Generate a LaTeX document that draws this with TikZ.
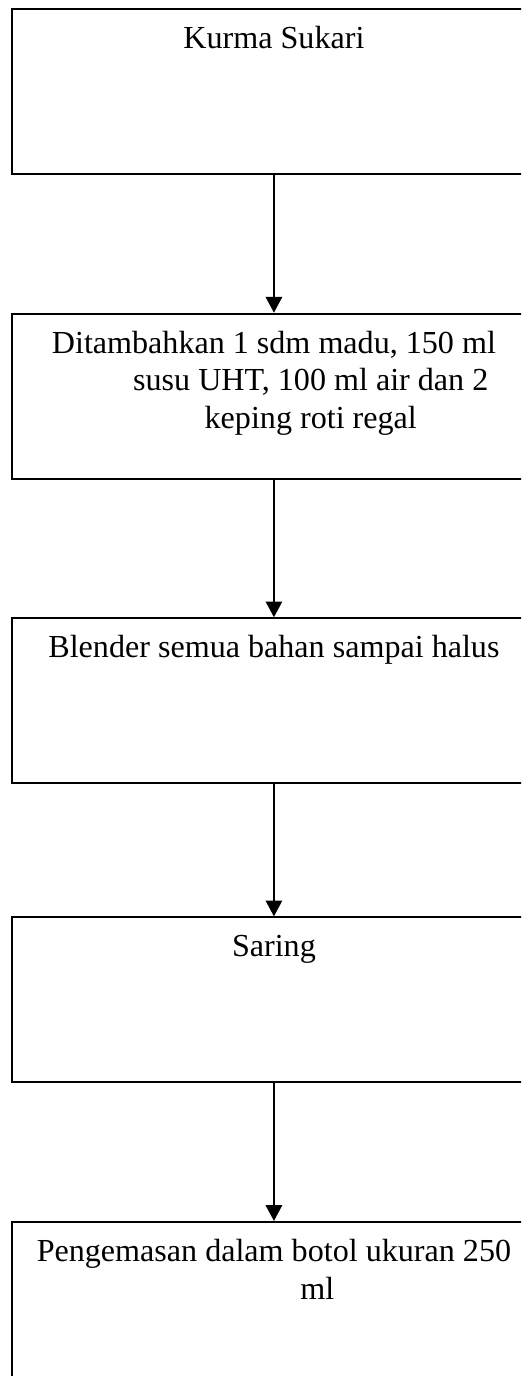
\documentclass[tikz,border=0pt]{standalone}
\usepackage{fontspec}
\setmainfont{Liberation Serif}
\usetikzlibrary{positioning,arrows.meta}
\newcommand{\steptext}[1]{\parbox[c][62.7pt][t]{196pt}{\vspace*{5pt}\centering\strut#1}}

\begin{document}
\begin{tikzpicture}[x=1pt,y=1pt,
	stepbox/.style={draw,line width=0.75pt,inner sep=0pt,minimum width=199pt,minimum height=62.7pt,font=\fontsize{12.2pt}{14.3pt}\selectfont},
	flow/.style={-{Triangle[length=6pt,width=6.2pt]},line width=0.8pt},
	node distance=52.3pt]
	\useasboundingbox (0,0) rectangle (198,-522.9);
	\clip (0,0) rectangle (198,-522.9);
	\node[stepbox] (kurma) at (104.1,-34.8) {\steptext{Kurma Sukari}};
	\node[stepbox,below=of kurma] (tambah) {\steptext{Ditambahkan 1 sdm madu, 150 ml\\ \hspace*{28pt}susu UHT, 100 ml air dan 2\\ \hspace*{28pt}keping roti regal}};
	\node[stepbox,below=of tambah] (blender) {\steptext{Blender semua bahan sampai halus}};
	\node[stepbox,below=50.2pt of blender] (saring) {\steptext{Saring}};
	\node[stepbox,below=of saring] (kemas) {\steptext{Pengemasan dalam botol ukuran 250\\ \hspace*{33pt}ml}};
	\draw[flow] (kurma) -- (tambah);
	\draw[flow] (tambah) -- (blender);
	\draw[flow] (blender) -- (saring);
	\draw[flow] (saring) -- (kemas);
\end{tikzpicture}
\end{document}
